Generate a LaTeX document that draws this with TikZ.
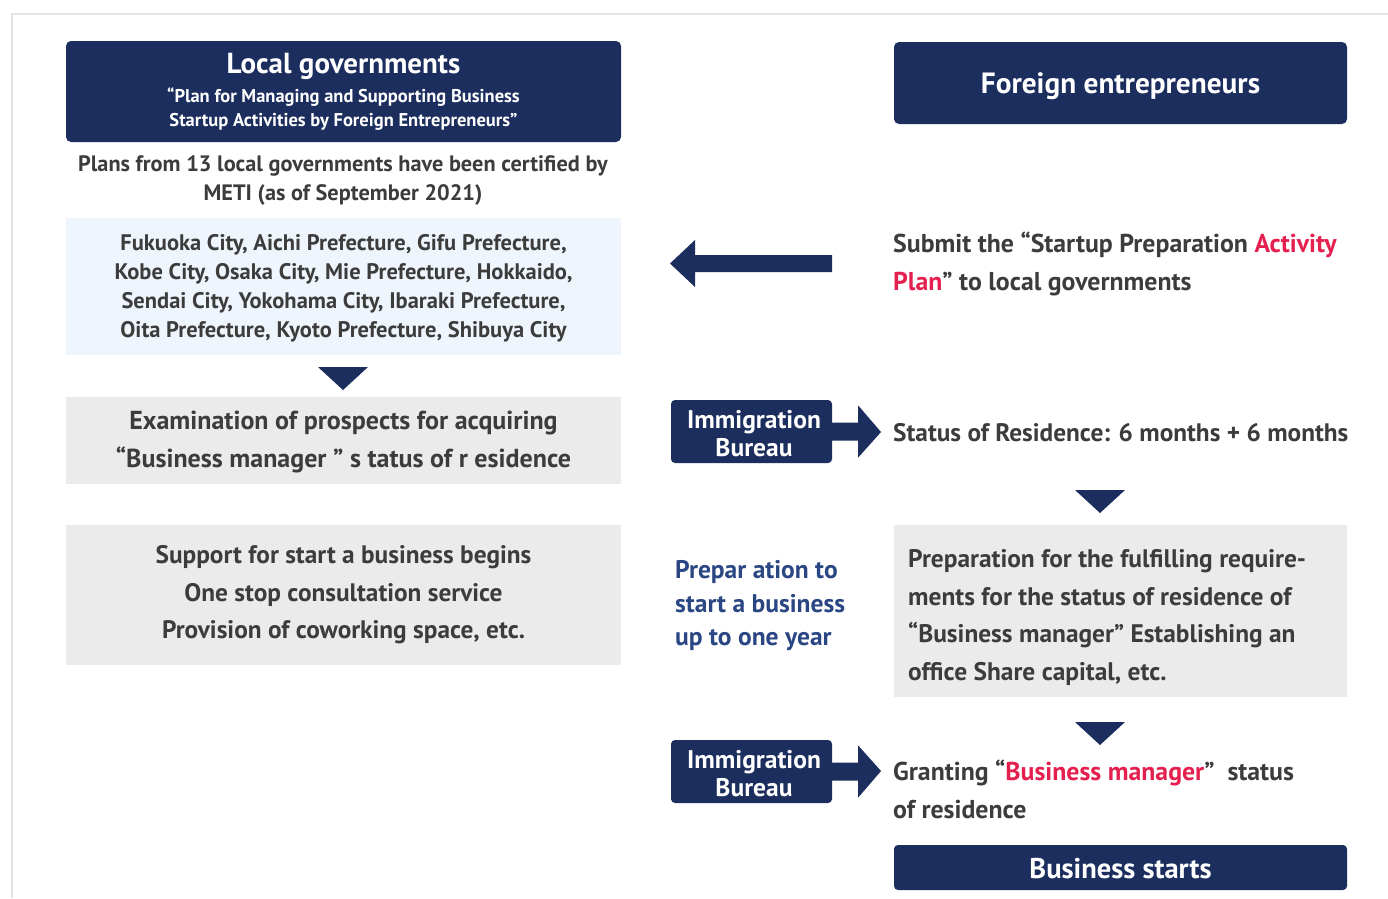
\documentclass[tikz,border=0pt]{standalone}
\usepackage{fontspec}
\setmainfont{PT Sans}
\usetikzlibrary{calc}
\definecolor{navy}{HTML}{1C2E5E}
\definecolor{txt}{HTML}{3C3C3C}
\definecolor{lblue}{HTML}{EEF5FC}
\definecolor{lgray}{HTML}{EBEBEB}
\definecolor{hred}{HTML}{E5204F}
\definecolor{bluetxt}{HTML}{2A4784}
\definecolor{framec}{HTML}{E4E4E4}
\tikzset{
  navybox/.style={fill=navy, rounded corners=5pt, inner sep=0pt, text=white, font=\bfseries},
  flatbox/.style={inner sep=0pt},
  tri/.style={fill=navy},
  fatarrow/.style={fill=navy},
  body/.style={text=txt, inner sep=0pt, font=\bfseries},
}
\newcommand{\fs}[2]{\fontsize{#1}{#2}\selectfont}
\begin{document}
\begin{tikzpicture}[x=1pt,y=-1pt]
\useasboundingbox (0,0) rectangle (1388,898);
\fill[white] (0,0) rectangle (1388,898);
\draw[framec, line width=1.5pt] (12,898) -- (12,14) -- (1388,14);

% ---- left column
\node[navybox, minimum width=555pt, minimum height=101pt] (lg) at (343.5,91.5) {};
\node[text=white, inner sep=0pt, font=\bfseries\fs{29}{30}] (lgt) at (343.5,66.5) {Local governments};
\node[text=white, inner sep=0pt, align=center, font=\bfseries\fs{18.5}{24}] (lgs) at (343.5,109) {“Plan for Managing and Supporting Business\\Startup Activities by Foreign Entrepreneurs”};

\node[body, align=center, font=\bfseries\fs{22.3}{29}] (plans) at (343,181) {Plans from 13 local governments have been certified by\\METI (as of September 2021)};

\node[flatbox, fill=lblue, minimum width=555pt, minimum height=137pt] (cities) at (343.5,286.5) {};
\node[body, align=center, font=\bfseries\fs{22.5}{29}] (citiest) at (343.5,288.5) {Fukuoka City, Aichi Prefecture, Gifu Prefecture,\\Kobe City, Osaka City, Mie Prefecture, Hokkaido,\\Sendai City, Yokohama City, Ibaraki Prefecture,\\Oita Prefecture, Kyoto Prefecture, Shibuya City};

\coordinate (t1) at (343,367);
\fill[tri] ($(t1)+(-25,0)$) -- ($(t1)+(25,0)$) -- ($(t1)+(0,23)$) -- cycle;

\node[flatbox, fill=lgray, minimum width=555pt, minimum height=87pt] (exam) at (343.5,440.5) {};
\node[body, align=center, font=\bfseries\fs{26}{38}] (examt) at (343.5,442) {Examination of prospects for acquiring\\“Business manager ” s tatus of r esidence};

\node[flatbox, fill=lgray, minimum width=555pt, minimum height=140pt] (support) at (343.5,595) {};
\node[body, align=center, font=\bfseries\fs{25.3}{37.5}] (supportt) at (343.5,595) {Support for start a business begins\\One stop consultation service\\Provision of coworking space, etc.};

% ---- right column
\node[navybox, minimum width=453pt, minimum height=82pt] (fe) at (1120.5,83) {};
\node[text=white, inner sep=0pt, font=\bfseries\fs{29.3}{30}] (fet) at (1120.5,86) {Foreign entrepreneurs};

\node[body, anchor=west, align=left, font=\bfseries\fs{25.8}{38}] (submit) at (893,263.5) {Submit the “Startup Preparation \textcolor{hred}{Activity}\\\textcolor{hred}{Plan}” to local governments};

\coordinate (la) at (832,263.5);
\fill[fatarrow] (la) ++(0,-8.5) -- ++(-137,0) -- ++(0,-15) -- (670,263.5) -- (695,287) -- (695,272) -- (832,272) -- cycle;

\node[navybox, rounded corners=4pt, minimum width=161pt, minimum height=63pt] (ib1) at (751.5,431.5) {};
\node[text=white, inner sep=0pt, align=center, font=\bfseries\fs{25.5}{28}] (ib1t) at (754,434) {Immigration\\Bureau};
\node[body, anchor=west, font=\bfseries\fs{25.3}{28}] (status) at (893,433) {Status of Residence: 6 months + 6 months};
\fill[fatarrow] ($(ib1.east)+(-2,-9)$) -- ++(28,0) -- ++(0,-17) -- ($(status.west)+(-12,-1)$) -- ($(ib1.east)+(26,26)$) -- ++(0,-17) -- ($(ib1.east)+(-2,9)$) -- cycle;

\coordinate (t2) at (1100,490);
\fill[tri] ($(t2)+(-25,0)$) -- ($(t2)+(25,0)$) -- ($(t2)+(0,23)$) -- cycle;

\node[flatbox, fill=lgray, minimum width=453pt, minimum height=172pt] (prep) at (1120.5,611) {};
\node[body, anchor=west, align=left, font=\bfseries\fs{25.4}{37.5}] (prept) at (908,617.5) {Preparation for the fulfilling require-\\ments for the status of residence of\\“Business manager” Establishing an\\office Share capital, etc.};

\node[inner sep=0pt, anchor=west, align=left, text=bluetxt, font=\bfseries\fs{25.5}{33.5}] (yr) at (675,606) {Prepar ation to\\start a business\\up to one year};

\coordinate (t3) at (1100,722);
\fill[tri] ($(t3)+(-25,0)$) -- ($(t3)+(25,0)$) -- ($(t3)+(0,23)$) -- cycle;

\node[navybox, rounded corners=4pt, minimum width=161pt, minimum height=63pt] (ib2) at (751.5,771.5) {};
\node[text=white, inner sep=0pt, align=center, font=\bfseries\fs{25.5}{28}] (ib2t) at (754,774) {Immigration\\Bureau};
\node[body, anchor=west, align=left, font=\bfseries\fs{25.8}{38}] (grant) at (893,789) {Granting “\textcolor{hred}{Business manager}”~ status\\of residence};
\fill[fatarrow] ($(ib2.east)+(-2,-9)$) -- ++(28,0) -- ++(0,-17) -- (881,771) -- ($(ib2.east)+(26,26)$) -- ++(0,-17) -- ($(ib2.east)+(-2,9)$) -- cycle;

\node[navybox, rounded corners=4pt, minimum width=453pt, minimum height=45pt] (bs) at (1120.5,867.5) {};
\node[text=white, inner sep=0pt, font=\bfseries\fs{28.5}{30}] (bst) at (1120.5,869) {Business starts};
\end{tikzpicture}
\end{document}
